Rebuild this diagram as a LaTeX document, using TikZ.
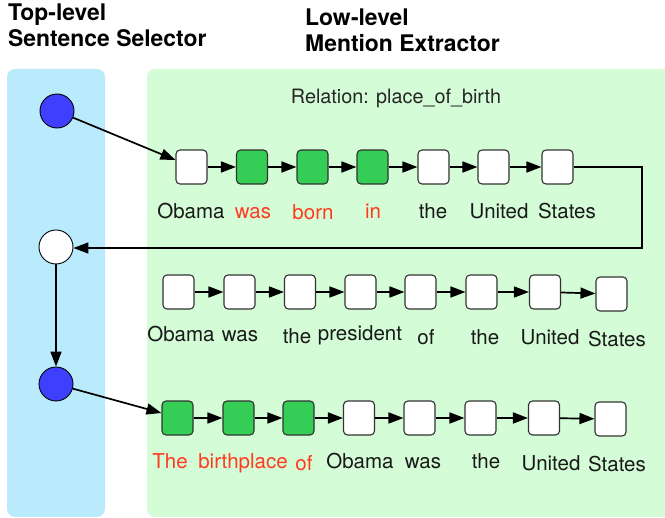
\documentclass[tikz,border=0pt]{standalone}
\usepackage{fontspec}
\setmainfont{TeX Gyre Heros}
\usetikzlibrary{arrows.meta}
\definecolor{bluepanel}{HTML}{B9EBFC}
\definecolor{greenpanel}{HTML}{D4FCD6}
\definecolor{greenbox}{HTML}{34CD55}
\definecolor{bluedot}{HTML}{3F3FFF}
\definecolor{redtext}{HTML}{FF3A1E}
\tikzset{
  wbox/.style={draw=black!80, line width=1.1pt, rounded corners=4pt, fill=white, minimum width=31pt, minimum height=34pt, inner sep=0pt},
  gbox/.style={wbox, fill=greenbox},
  dot/.style={circle, draw=black, line width=0.9pt, minimum size=34pt, inner sep=0pt},
  arr/.style={line width=1.7pt, -{Triangle[length=15pt,width=11pt]}},
  link/.style={line width=1.7pt, -{Triangle[length=15pt,width=11pt]}},
  word/.style={anchor=base, inner sep=0pt, font=\fontsize{20.5}{22}\selectfont, text=black!90},
  rword/.style={word, text=redtext},
  title/.style={anchor=base west, inner sep=0pt, font=\fontsize{22.9}{26}\selectfont\bfseries}
}
\begin{document}
\begin{tikzpicture}[x=1pt,y=-1pt]
\useasboundingbox (0,0) rectangle (665,518);
\begin{scope}
\clip (0,0) rectangle (665,518);
\fill[bluepanel, rounded corners=8pt] (7,69) rectangle (105,517);
\fill[greenpanel, rounded corners=8pt] (147,69) rectangle (690,517);
\end{scope}
% titles
\node[title] (t1) at (8,21) {Top-level};
\node[title] (t2) at (8,47) {Sentence Selector};
\node[title] (t3) at (305,26) {Low-level};
\node[title] (t4) at (305,52) {Mention Extractor};
\node[word, font=\fontsize{19.8}{21}\selectfont, text=black!85] (rel) at (396,104) {Relation: place\_of\_birth};
% circles
\node[dot, fill=bluedot] (c1) at (57,111) {};
\node[dot, fill=white] (c2) at (56,247) {};
\node[dot, fill=bluedot] (c3) at (56,384) {};
% row 1
\node[wbox] (a1) at (191.5,167) {};
\node[gbox] (a2) at (252,167) {};
\node[gbox] (a3) at (312.5,167) {};
\node[gbox] (a4) at (372.5,167) {};
\node[wbox] (a5) at (433.5,167) {};
\node[wbox] (a6) at (493.5,167) {};
\node[wbox] (a7) at (557.5,167) {};
\foreach \i/\j in {1/2,2/3,3/4,4/5,5/6,6/7} \draw[link] (a\i) -- (a\j);
\node[word] (wa1) at (191,219) {Obama};
\node[rword] (wa2) at (253,219) {was};
\node[rword] (wa3) at (313,220) {born};
\node[rword] (wa4) at (373,219) {in};
\node[word] (wa5) at (433,219) {the};
\node[word] (wa6) at (499,219) {United};
\node[word] (wa7) at (567,219) {States};
% row 2
\node[wbox] (b1) at (178.5,292) {};
\node[wbox] (b2) at (239.5,292) {};
\node[wbox] (b3) at (300,292) {};
\node[wbox] (b4) at (360.5,292) {};
\node[wbox] (b5) at (420.5,292) {};
\node[wbox] (b6) at (481.5,292) {};
\node[wbox] (b7) at (545,292) {};
\node[wbox] (b8) at (611.5,294) {};
\foreach \i/\j in {1/2,2/3,3/4,4/5,5/6,6/7,7/8} \draw[link] (b\i) -- (b\j);
\node[word] (wb1) at (181,342) {Obama};
\node[word] (wb2) at (240,342) {was};
\node[word] (wb3) at (297,344) {the};
\node[word] (wb4) at (360,341) {president};
\node[word] (wb5) at (426,345) {of};
\node[word] (wb6) at (485,345) {the};
\node[word] (wb7) at (550,345) {United};
\node[word] (wb8) at (617,347) {States};
% row 3
\node[gbox] (d1) at (177.5,418) {};
\node[gbox] (d2) at (238.5,418) {};
\node[gbox] (d3) at (298.5,418) {};
\node[wbox] (d4) at (359,418) {};
\node[wbox] (d5) at (419.5,418) {};
\node[wbox] (d6) at (480.5,418) {};
\node[wbox] (d7) at (544,418) {};
\node[wbox] (d8) at (610.5,419) {};
\foreach \i/\j in {1/2,2/3,3/4,4/5,5/6,6/7,7/8} \draw[link] (d\i) -- (d\j);
\node[rword] (wd1) at (170,469) {The};
\node[rword] (wd2) at (243,469) {birthplace};
\node[rword] (wd3) at (304,471) {of};
\node[word] (wd4) at (360,469) {Obama};
\node[word] (wd5) at (423,469) {was};
\node[word] (wd6) at (486,469) {the};
\node[word] (wd7) at (551,471) {United};
\node[word] (wd8) at (617,472) {States};
% selector connectors
\draw[arr] (c1) -- (a1.north west |- 0,160);
\coordinate (lp) at (642,248);
\draw[arr] (a7.east) -| (lp) -- (lp -| c2.east);
\draw[arr] (c2) -- (c3);
\draw[arr] (c3) -- (d1.west |- 0,413);
\end{tikzpicture}
\end{document}
